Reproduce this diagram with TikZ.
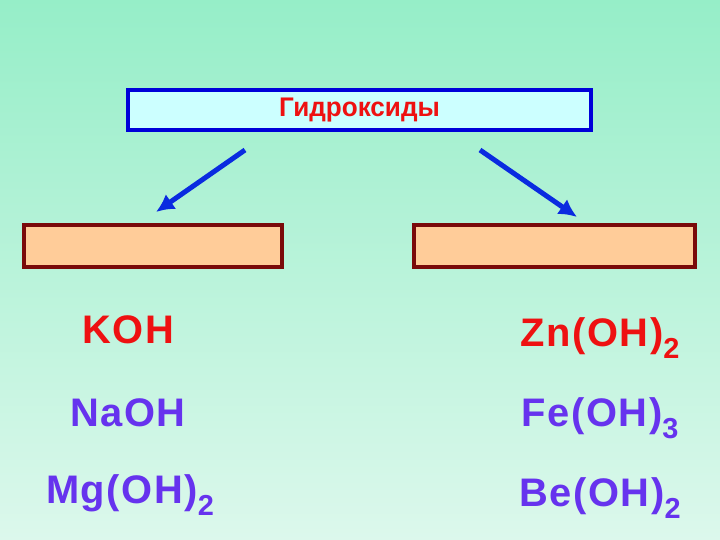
\documentclass[tikz,border=0pt]{standalone}
\usepackage{fontspec}
\setmainfont{Liberation Sans}
\newfontfamily\chemfont[LetterSpace=4]{Liberation Sans}
\usetikzlibrary{arrows.meta}
\definecolor{bgtop}{HTML}{96EEC8}
\definecolor{bgbot}{HTML}{DCF8EC}
\definecolor{tred}{HTML}{EE1111}
\definecolor{tpur}{HTML}{6633EE}
\definecolor{abl}{HTML}{0A2BE0}
\definecolor{obr}{HTML}{7A0A0A}
\definecolor{ofill}{HTML}{FFCC99}
\definecolor{tfill}{HTML}{CCFFFF}
\newcommand{\sbs}[1]{\raisebox{-0.3em}{\fontsize{29}{30}\selectfont #1}}
\begin{document}
\begin{tikzpicture}[x=1bp,y=-1bp,
  chem/.style={font=\chemfont\fontsize{40}{42}\selectfont\bfseries},
  obox/.style={draw=obr,line width=3.5bp,fill=ofill},
  arr/.style={draw=abl,line width=5bp,-{Latex[length=18bp,width=18bp]}}]
\shade[top color=bgtop,bottom color=bgbot] (0,0) rectangle (720,540);
\useasboundingbox (0,0) rectangle (720,540);
\node[draw=blue!85!black,line width=4bp,fill=tfill,minimum width=462bp,minimum height=40bp,
  font=\fontsize{27}{29}\selectfont\bfseries,text=tred] (t) at (359.5,110.5) {\scalebox{0.97}[1]{Гидроксиды}};
\node[obox,minimum width=258bp,minimum height=42bp] (l) at (153,246) {};
\node[obox,minimum width=281bp,minimum height=42bp] (r) at (554.5,246) {};
\coordinate (la) at (245,150); \coordinate (ra) at (480,150);
\coordinate (le) at (156,212); \coordinate (re) at (577,217);
\draw[arr] (la) -- (le);
\draw[arr] (ra) -- (re);
\node[chem,text=tred] (k) at (128,330) {KOH};
\node[chem,text=tpur] (na) at (128,413) {NaOH};
\node[chem,text=tpur] (mg) at (130,495) {Mg(OH)\sbs{2}};
\node[chem,text=tred] (zn) at (600,338) {Zn(OH)\sbs{2}};
\node[chem,text=tpur] (fe) at (600,418) {Fe(OH)\sbs{3}};
\node[chem,text=tpur] (be) at (600,498) {Be(OH)\sbs{2}};
\end{tikzpicture}
\end{document}
